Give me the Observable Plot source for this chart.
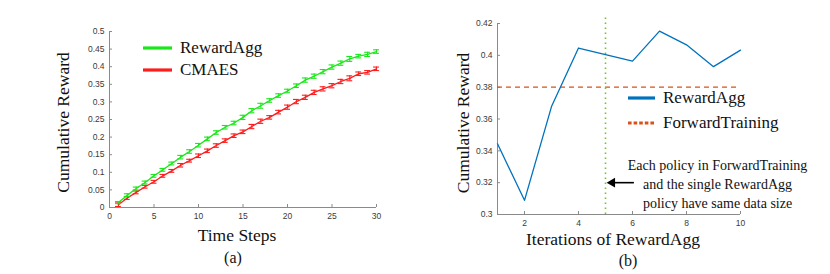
<!DOCTYPE html>
<html>
<head>
<meta charset="utf-8">
<script src="https://cdn.jsdelivr.net/npm/d3@7"></script>
<script src="https://cdn.jsdelivr.net/npm/@observablehq/plot@0.6"></script>
<style>
  html, body { margin: 0; padding: 0; background: #fff; }
  #wrap { position: relative; width: 830px; height: 274px; overflow: hidden; }
  #wrap svg { position: absolute; top: 0; }
  .lbl { position: absolute; font-family: "Liberation Serif", serif; color: #111; white-space: nowrap; }
  .leg { position: absolute; display: flex; align-items: center; font-family: "Liberation Serif", serif; font-size: 17px; color: #111; }
  .leg svg { position: static !important; margin-right: 8px; }
</style>
</head>
<body>
<div id="wrap"></div>
<script>
// ---------- Data: panel (a) ----------
const timeSteps = d3.range(1, 31);
const rewardAggA = [0.014,0.035,0.054,0.071,0.090,0.107,0.125,0.143,0.159,0.177,
                    0.195,0.213,0.228,0.240,0.256,0.275,0.289,0.304,0.318,0.331,
                    0.346,0.362,0.373,0.386,0.399,0.410,0.422,0.430,0.435,0.443];
const rewardAggErr = [0.003,0.004,0.004,0.004,0.004,0.004,0.004,0.005,0.005,0.005,
                      0.005,0.005,0.005,0.005,0.006,0.006,0.007,0.005,0.005,0.005,
                      0.005,0.006,0.006,0.006,0.006,0.006,0.007,0.005,0.006,0.005];
const cmaes = [0.008,0.027,0.043,0.059,0.073,0.090,0.104,0.120,0.133,0.147,
               0.161,0.176,0.190,0.204,0.215,0.230,0.245,0.256,0.271,0.285,
               0.301,0.313,0.327,0.337,0.346,0.358,0.367,0.380,0.384,0.394];
const cmaesErr = [0.005,0.004,0.004,0.004,0.004,0.004,0.004,0.005,0.004,0.005,
                  0.005,0.005,0.005,0.005,0.005,0.006,0.006,0.005,0.005,0.006,
                  0.006,0.006,0.006,0.006,0.006,0.006,0.007,0.005,0.005,0.005];
const xTicksA = [0, 5, 10, 15, 20, 25, 30];
const yTicksA = [0, 0.05, 0.1, 0.15, 0.2, 0.25, 0.3, 0.35, 0.4, 0.45, 0.5];

// ---------- Data: panel (b) ----------
const iterations = [1, 2, 3, 4, 5, 6, 7, 8, 9, 10];
const rewardAggB = [0.3444, 0.3089, 0.3678, 0.4046, 0.4005, 0.3964, 0.4152, 0.4066, 0.3929, 0.4033];
const forwardTraining = [0.38];
const markerIteration = [5];
const markerTop = 0.4235;
const annotationY = 0.32;
const annotationArrowFrom = 6.07;
const annotationArrowTo = 5.1;
const annotationTextX = 9.15;
const annotationText = "Each policy in ForwardTraining\nand the single RewardAgg\npolicy have same data size";
const xTicksB = [2, 4, 6, 8, 10];
const yTicksB = [0.3, 0.32, 0.34, 0.36, 0.38, 0.4, 0.42];

const GREEN = "#18e818", RED = "#ff1c1c", BLUE = "#0072BD", ORANGE = "#D95319", LGREEN = "#77C030";
const AXIS = "#8a8a8a";
const SERIF = "Liberation Serif, serif";

const tA = timeSteps.map((t, i) => ({t, g: rewardAggA[i], ge: rewardAggErr[i], r: cmaes[i], re: cmaesErr[i]}));
const capHalf = 0.33;

const axisCommon = {stroke: AXIS, color: "#3a3a3a", fontSize: 8.5, tickSize: -3, tickPadding: 8};

const plotA = Plot.plot({
  width: 415, height: 274,
  marginLeft: 109, marginRight: 39, marginTop: 31, marginBottom: 67,
  style: {fontFamily: "Liberation Sans, Arial, sans-serif", background: "transparent"},
  x: {domain: [0, 30]},
  y: {domain: [0, 0.5]},
  marks: [
    Plot.axisX({ticks: xTicksA, tickFormat: d => String(d), label: null, ...axisCommon}),
    Plot.axisY({ticks: yTicksA, tickFormat: d => String(d), label: null, ...axisCommon}),
    Plot.ruleY([0], {stroke: AXIS}),
    Plot.ruleX([0], {stroke: AXIS}),
    // CMAES
    Plot.line(tA, {x: "t", y: "r", stroke: RED, strokeWidth: 1.3}),
    Plot.ruleX(tA, {x: "t", y1: d => d.r - d.re, y2: d => d.r + d.re, stroke: RED, strokeWidth: 1.1}),
    Plot.ruleY(tA, {y: d => d.r - d.re, x1: d => d.t - capHalf, x2: d => d.t + capHalf, stroke: RED, strokeWidth: 1.1}),
    Plot.ruleY(tA, {y: d => d.r + d.re, x1: d => d.t - capHalf, x2: d => d.t + capHalf, stroke: RED, strokeWidth: 1.1}),
    // RewardAgg
    Plot.line(tA, {x: "t", y: "g", stroke: GREEN, strokeWidth: 1.3}),
    Plot.ruleX(tA, {x: "t", y1: d => d.g - d.ge, y2: d => d.g + d.ge, stroke: GREEN, strokeWidth: 1.1}),
    Plot.ruleY(tA, {y: d => d.g - d.ge, x1: d => d.t - capHalf, x2: d => d.t + capHalf, stroke: GREEN, strokeWidth: 1.1}),
    Plot.ruleY(tA, {y: d => d.g + d.ge, x1: d => d.t - capHalf, x2: d => d.t + capHalf, stroke: GREEN, strokeWidth: 1.1}),
    // axis titles
    Plot.text(["Cumulative Reward"], {frameAnchor: "left", textAnchor: "middle", lineAnchor: "middle", rotate: -90, dx: -46, dy: 3, fontFamily: SERIF, fontSize: 17.5, fill: "#111"}),
    Plot.text(["Time Steps"], {frameAnchor: "bottom", textAnchor: "middle", lineAnchor: "middle", dy: 28, dx: -6, fontFamily: SERIF, fontSize: 17.5, fill: "#111"})
  ]
});

const tB = iterations.map((x, i) => ({x, y: rewardAggB[i]}));
const plotB = Plot.plot({
  width: 415, height: 274,
  marginLeft: 82, marginRight: 90, marginTop: 23, marginBottom: 60,
  style: {fontFamily: "Liberation Sans, Arial, sans-serif", background: "transparent", overflow: "visible"},
  x: {domain: [1, 10]},
  y: {domain: [0.3, 0.42]},
  marks: [
    Plot.axisX({ticks: xTicksB, tickFormat: d => String(d), label: null, ...axisCommon}),
    Plot.axisY({ticks: yTicksB, tickFormat: d => String(d), label: null, ...axisCommon}),
    Plot.ruleY([0.3], {stroke: AXIS}),
    Plot.ruleX([1], {stroke: AXIS}),
    Plot.ruleY(forwardTraining, {x1: 1, x2: 10, stroke: ORANGE, strokeWidth: 1.2, strokeDasharray: "5,4"}),
    Plot.ruleX(markerIteration, {y1: 0.3, y2: markerTop, stroke: LGREEN, strokeWidth: 1.6, strokeDasharray: "1.6,3.4"}),
    Plot.line(tB, {x: "x", y: "y", stroke: BLUE, strokeWidth: 1.3}),
    // annotation
    Plot.ruleY([annotationY], {x1: annotationArrowFrom, x2: annotationArrowTo + 0.2, stroke: "#000", strokeWidth: 1.6}),
    Plot.dot([annotationY], {x: annotationArrowTo + 0.15, y: d => d, symbol: "triangle", rotate: -90, r: 3.6, fill: "#000", stroke: null}),
    Plot.text([annotationText], {x: annotationTextX, y: annotationY, lineHeight: 1.38, fontFamily: SERIF, fontSize: 14, fill: "#111", textAnchor: "middle"}),
    // axis titles
    Plot.text(["Cumulative Reward"], {frameAnchor: "left", textAnchor: "middle", lineAnchor: "middle", rotate: -90, dx: -34, dy: 4, fontFamily: SERIF, fontSize: 17.5, fill: "#111"}),
    Plot.text(["Iterations of RewardAgg"], {frameAnchor: "bottom", textAnchor: "middle", lineAnchor: "middle", dy: 25, dx: -6, fontFamily: SERIF, fontSize: 17.5, fill: "#111"})
  ]
});

const wrap = document.getElementById("wrap");
plotA.style.left = "0px";
plotB.style.left = "415px";
wrap.appendChild(plotA);
wrap.appendChild(plotB);

function legendItem(left, top, color, dash, label, width) {
  const div = document.createElement("div");
  div.className = "leg";
  div.style.left = left + "px";
  div.style.top = top + "px";
  const ns = "http://www.w3.org/2000/svg";
  const s = document.createElementNS(ns, "svg");
  s.setAttribute("width", width); s.setAttribute("height", 6);
  const l = document.createElementNS(ns, "line");
  l.setAttribute("x1", 0); l.setAttribute("x2", width); l.setAttribute("y1", 3); l.setAttribute("y2", 3);
  l.setAttribute("stroke", color); l.setAttribute("stroke-width", 3.2);
  if (dash) l.setAttribute("stroke-dasharray", dash);
  s.appendChild(l);
  div.appendChild(s);
  const sp = document.createElement("span");
  sp.textContent = label;
  div.appendChild(sp);
  wrap.appendChild(div);
}
legendItem(143, 38, GREEN, null, "RewardAgg", 29);
legendItem(143, 60, RED, null, "CMAES", 29);
legendItem(628, 88, BLUE, null, "RewardAgg", 27);
legendItem(628, 113, ORANGE, "3.6,2", "ForwardTraining", 27);

function caption(text, cx, cy) {
  const d = document.createElement("div");
  d.className = "lbl";
  d.style.fontSize = "16px";
  d.textContent = text;
  d.style.left = cx + "px";
  d.style.top = cy + "px";
  d.style.transform = "translate(-50%, -50%)";
  wrap.appendChild(d);
}
caption("(a)", 233, 258);
caption("(b)", 628, 261);
</script>
</body>
</html>
